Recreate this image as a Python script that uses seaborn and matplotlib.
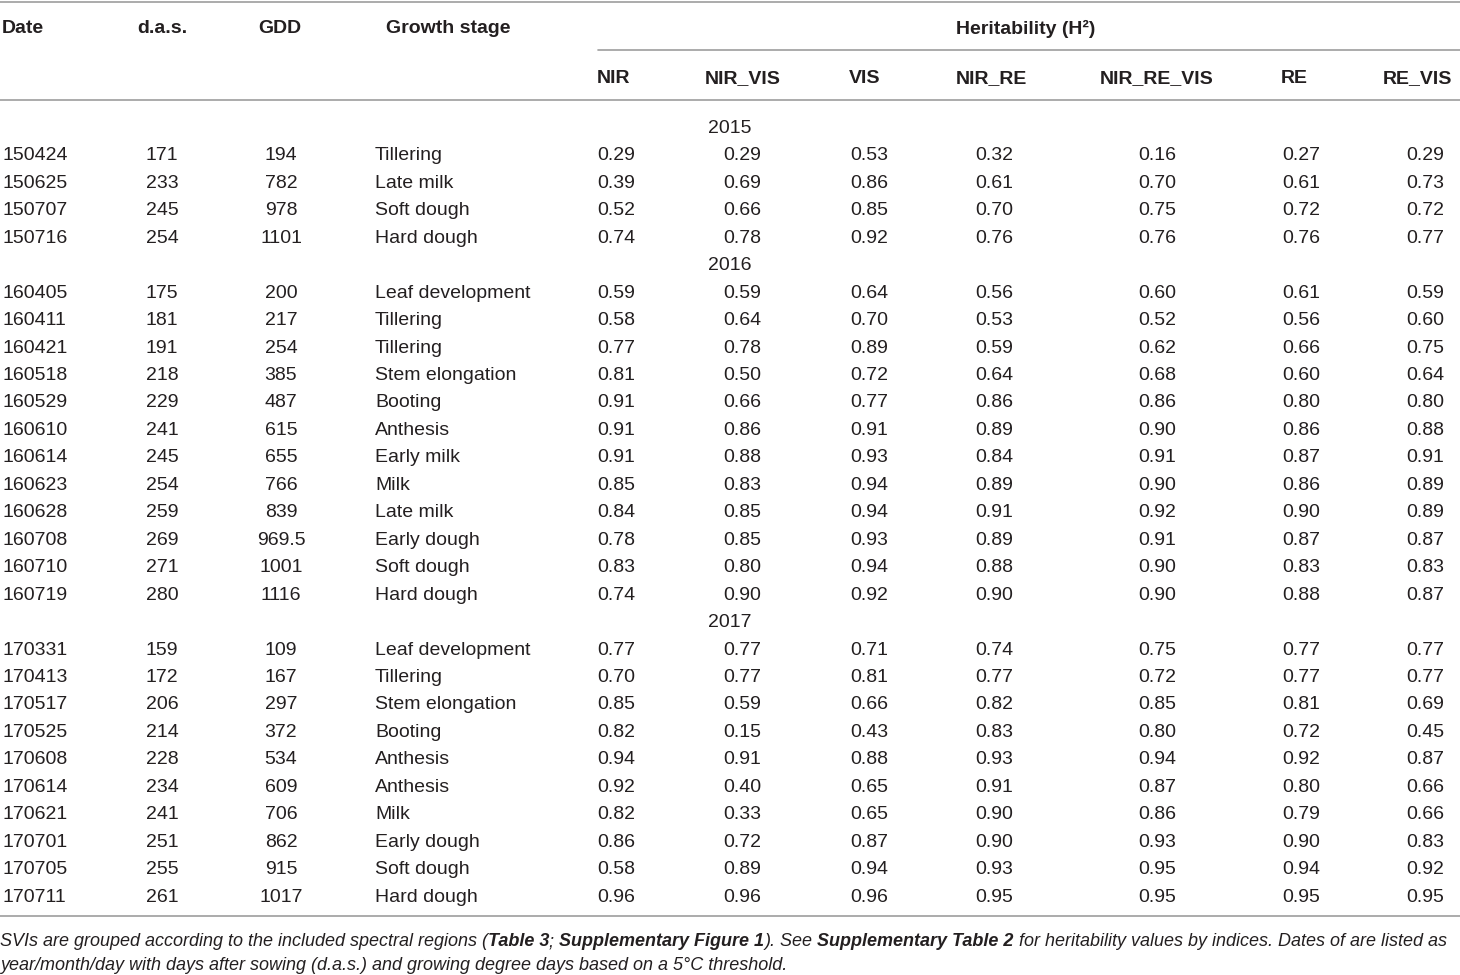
import matplotlib
matplotlib.use("Agg")
import matplotlib.pyplot as plt
import seaborn as sns

# table data
years = ["2015", "2016", "2017"]
year_counts = [4, 12, 10]

dates = ["150424", "150625", "150707", "150716",
         "160405", "160411", "160421", "160518", "160529", "160610",
         "160614", "160623", "160628", "160708", "160710", "160719",
         "170331", "170413", "170517", "170525", "170608", "170614",
         "170621", "170701", "170705", "170711"]
das = [171, 233, 245, 254,
       175, 181, 191, 218, 229, 241, 245, 254, 259, 269, 271, 280,
       159, 172, 206, 214, 228, 234, 241, 251, 255, 261]
gdd = ["194", "782", "978", "1101",
       "200", "217", "254", "385", "487", "615", "655", "766", "839",
       "969.5", "1001", "1116",
       "109", "167", "297", "372", "534", "609", "706", "862", "915", "1017"]
stages = ["Tillering", "Late milk", "Soft dough", "Hard dough",
          "Leaf development", "Tillering", "Tillering", "Stem elongation",
          "Booting", "Anthesis", "Early milk", "Milk", "Late milk",
          "Early dough", "Soft dough", "Hard dough",
          "Leaf development", "Tillering", "Stem elongation", "Booting",
          "Anthesis", "Anthesis", "Milk", "Early dough", "Soft dough",
          "Hard dough"]

index_names = ["NIR", "NIR_VIS", "VIS", "NIR_RE", "NIR_RE_VIS", "RE", "RE_VIS"]
nir = [0.29, 0.39, 0.52, 0.74,
       0.59, 0.58, 0.77, 0.81, 0.91, 0.91, 0.91, 0.85, 0.84, 0.78, 0.83, 0.74,
       0.77, 0.70, 0.85, 0.82, 0.94, 0.92, 0.82, 0.86, 0.58, 0.96]
nir_vis = [0.29, 0.69, 0.66, 0.78,
           0.59, 0.64, 0.78, 0.50, 0.66, 0.86, 0.88, 0.83, 0.85, 0.85, 0.80, 0.90,
           0.77, 0.77, 0.59, 0.15, 0.91, 0.40, 0.33, 0.72, 0.89, 0.96]
vis = [0.53, 0.86, 0.85, 0.92,
       0.64, 0.70, 0.89, 0.72, 0.77, 0.91, 0.93, 0.94, 0.94, 0.93, 0.94, 0.92,
       0.71, 0.81, 0.66, 0.43, 0.88, 0.65, 0.65, 0.87, 0.94, 0.96]
nir_re = [0.32, 0.61, 0.70, 0.76,
          0.56, 0.53, 0.59, 0.64, 0.86, 0.89, 0.84, 0.89, 0.91, 0.89, 0.88, 0.90,
          0.74, 0.77, 0.82, 0.83, 0.93, 0.91, 0.90, 0.90, 0.93, 0.95]
nir_re_vis = [0.16, 0.70, 0.75, 0.76,
              0.60, 0.52, 0.62, 0.68, 0.86, 0.90, 0.91, 0.90, 0.92, 0.91, 0.90, 0.90,
              0.75, 0.72, 0.85, 0.80, 0.94, 0.87, 0.86, 0.93, 0.95, 0.95]
re = [0.27, 0.61, 0.72, 0.76,
      0.61, 0.56, 0.66, 0.60, 0.80, 0.86, 0.87, 0.86, 0.90, 0.87, 0.83, 0.88,
      0.77, 0.77, 0.81, 0.72, 0.92, 0.80, 0.79, 0.90, 0.94, 0.95]
re_vis = [0.29, 0.73, 0.72, 0.77,
          0.59, 0.60, 0.75, 0.64, 0.80, 0.88, 0.91, 0.89, 0.89, 0.87, 0.83, 0.87,
          0.77, 0.77, 0.69, 0.45, 0.87, 0.66, 0.66, 0.83, 0.92, 0.95]
index_values = [nir, nir_vis, vis, nir_re, nir_re_vis, re, re_vis]

caption1 = [("SVIs are grouped according to the included spectral regions (", "normal"),
            ("Table 3", "bold"), ("; ", "normal"),
            ("Supplementary Figure 1", "bold"), ("). See ", "normal"),
            ("Supplementary Table 2", "bold"),
            (" for heritability values by indices. Dates of are listed as", "normal")]
caption2 = [("year/month/day with days after sowing (d.a.s.) and growing degree "
             "days based on a 5°C threshold.", "normal")]

# layout (pixels)
W, H = 1460, 975
idx_x = [616, 742, 869, 994, 1157, 1301, 1425]
idx_head_x = [597, 743, 865, 991, 1157, 1294, 1417]
row_step = 27.45
dy = 2.5
fs = 14
txt = "#231f20"
rule = "#9d9d9d"

sns.set_theme(style="white")
plt.rcParams["font.family"] = ["Liberation Sans", "DejaVu Sans"]

fig = plt.figure(figsize=(W / 100, H / 100), dpi=100)
ax = fig.add_axes([0, 0, 1, 1])
ax.set_xlim(0, W)
ax.set_ylim(H, 0)
ax.axis("off")

# rules
for y in [1.5, 100, 916]:
    ax.axhline(y, color=rule, lw=1.2)
ax.plot([598, W], [50, 50], color=rule, lw=1.2)

# header
hd = dict(fontsize=fs, fontweight="bold", color=txt, va="center")
ax.text(2, 26 + dy, "Date", ha="left", **hd)
ax.text(162, 26 + dy, "d.a.s.", ha="center", **hd)
ax.text(280, 26 + dy, "GDD", ha="center", **hd)
ax.text(386, 26 + dy, "Growth stage", ha="left", **hd)
ax.text(1026, 26 + dy, "Heritability (H²)", ha="center", **hd)
for name, x in zip(index_names, idx_head_x):
    ax.text(x, 76 + dy, name, ha="left" if name == "NIR" else "center", **hd)

# body
bd = dict(fontsize=fs, color=txt, va="center")
y = 126 + dy
i = 0
for yr, n in zip(years, year_counts):
    ax.text(730, y, yr, ha="center", **bd)
    y += row_step
    for _ in range(n):
        ax.text(2, y, dates[i], ha="left", **bd)
        ax.text(162, y, str(das[i]), ha="center", **bd)
        ax.text(281, y, gdd[i], ha="center", **bd)
        ax.text(375, y, stages[i], ha="left", **bd)
        for vals, x in zip(index_values, idx_x):
            ax.text(x, y, f"{vals[i]:.2f}", ha="center", **bd)
        y += row_step
        i += 1

# caption with inline bold pieces
fig.canvas.draw()
renderer = fig.canvas.get_renderer()
cap_fs = 12.95


def width_of(s, weight):
    t1 = ax.text(0, 0, s + "l", fontsize=cap_fs, style="italic", fontweight=weight)
    t2 = ax.text(0, 0, "l", fontsize=cap_fs, style="italic", fontweight=weight)
    w = t1.get_window_extent(renderer).width - t2.get_window_extent(renderer).width
    t1.remove()
    t2.remove()
    return w


for line, yy in [(caption1, 942), (caption2, 965)]:
    x = 0
    for s, weight in line:
        ax.text(x, yy, s, fontsize=cap_fs, style="italic", fontweight=weight,
                color=txt, ha="left", va="center")
        x += width_of(s, weight)

fig.savefig("out.png", dpi=100)
